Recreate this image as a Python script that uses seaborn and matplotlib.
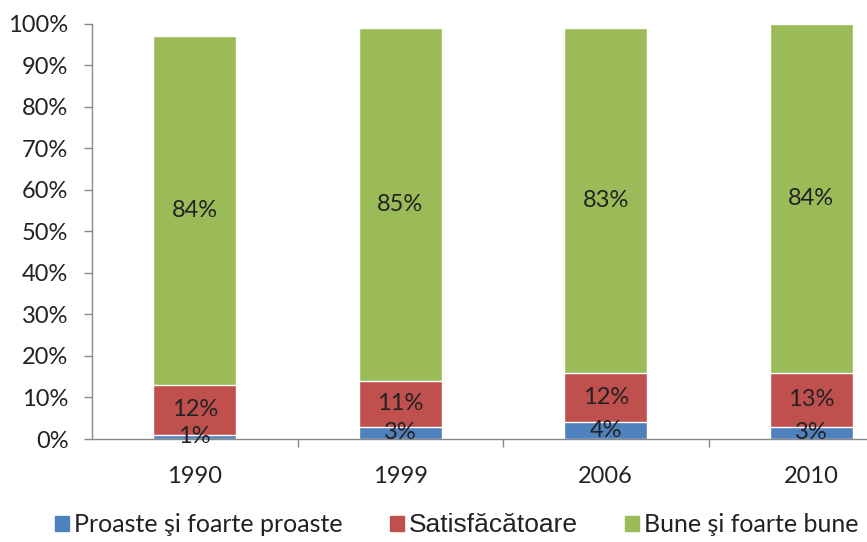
import numpy as np
import pandas as pd
import seaborn as sns
import matplotlib.pyplot as plt
from matplotlib.patches import Patch
from matplotlib.ticker import FixedLocator, PercentFormatter

# Data
years = ["1990", "1999", "2006", "2010"]
proaste = [1, 3, 4, 3]
satisf = [12, 11, 12, 13]
bune = [84, 85, 83, 84]
series_names = ["Proaste şi foarte proaste", "Satisfăcătoare", "Bune şi foarte bune"]
colors = ["#4F81BD", "#C0504D", "#9BBB59"]

sns.set_style("white")
plt.rcParams["font.family"] = ["Lato", "DejaVu Sans"]

df = pd.DataFrame({"year": years, "p": proaste, "s": satisf, "b": bune})
df["c1"] = df["p"]
df["c2"] = df["p"] + df["s"]
df["c3"] = df["c2"] + df["b"]

fig = plt.figure(figsize=(8.67, 5.42), dpi=100)
ax = fig.add_axes([92 / 867, 103 / 542, 822 / 867, 415.5 / 542])

w = 0.405
# cumulative layers, top segment first
sns.barplot(data=df, x="year", y="c3", color=colors[2], width=w, saturation=1, ax=ax)
sns.barplot(data=df, x="year", y="c2", color=colors[1], width=w, saturation=1, ax=ax)
sns.barplot(data=df, x="year", y="c1", color=colors[0], width=w, saturation=1, ax=ax)

fs = 17
for i in range(len(years)):
    ax.text(i, df["c1"][i] / 2, f"{proaste[i]}%", ha="center", va="center", fontsize=fs, color="#222222")
    ax.text(i, df["c1"][i] + satisf[i] / 2, f"{satisf[i]}%", ha="center", va="center", fontsize=fs, color="#222222")
    ax.text(i, df["c2"][i] + bune[i] / 2, f"{bune[i]}%", ha="center", va="center", fontsize=fs, color="#222222")

ax.set_xlim(-0.5, 3.5)
ax.set_ylim(0, 100)
ax.yaxis.set_major_locator(FixedLocator(np.arange(0, 101, 10)))
ax.yaxis.set_major_formatter(PercentFormatter(decimals=0))
ax.set_xlabel("")
ax.set_ylabel("")

for s in ["top", "right"]:
    ax.spines[s].set_visible(False)
for s in ["left", "bottom"]:
    ax.spines[s].set_color("#888888")
    ax.spines[s].set_linewidth(1)

ax.tick_params(axis="y", which="major", left=True, length=6, width=1, color="#888888", labelsize=fs, labelcolor="#222222", pad=11)
ax.tick_params(axis="x", which="major", bottom=False, labelsize=fs, labelcolor="#222222", pad=16)
ax.xaxis.set_minor_locator(FixedLocator([0.5, 1.5, 2.5]))
ax.tick_params(axis="x", which="minor", bottom=True, length=6, width=1, color="#888888")

handles = [Patch(color=c) for c in colors]
leg = fig.legend(handles, series_names, loc="lower center", bbox_to_anchor=(0.527, -0.033), ncol=3,
                 frameon=False, fontsize=18, handlelength=0.55, handleheight=0.55, handletextpad=0.2,
                 columnspacing=1.9, labelcolor="#222222")
leg.get_texts()[1].set_family("Liberation Sans")
leg.get_texts()[1].set_fontsize(19)

fig.savefig("out.png", dpi=100)
